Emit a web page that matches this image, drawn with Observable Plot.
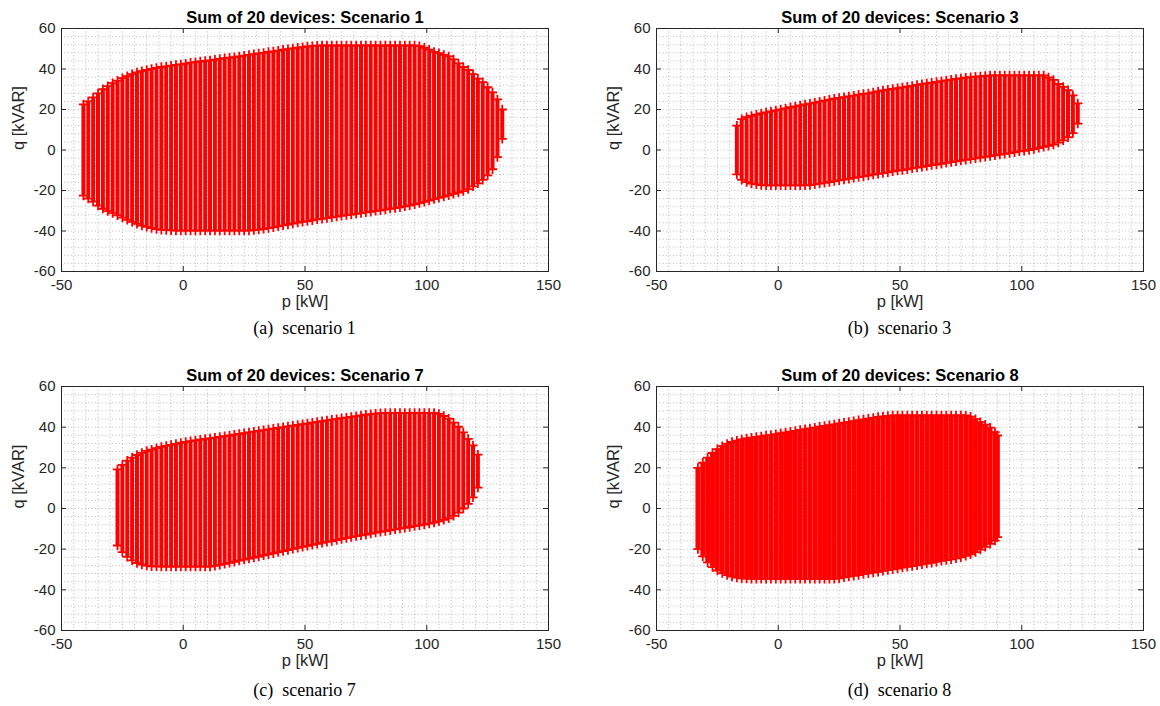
<!DOCTYPE html>
<html><head><meta charset="utf-8">
<script src="https://cdn.jsdelivr.net/npm/d3@7"></script>
<script src="https://cdn.jsdelivr.net/npm/@observablehq/plot@0.6"></script>
<style>
html,body{margin:0;padding:0;background:#fff;}
body{width:1160px;height:706px;position:relative;overflow:hidden;}
.panel{position:absolute;}
.cap{position:absolute;font-family:"Liberation Serif","Times New Roman",serif;font-size:18px;color:#000;transform:translate(-50%,-50%);white-space:pre;}
</style></head><body>
<script>
// ---- axes / labels ----
const xDomain = [-50, 150];
const yDomain = [-60, 60];
const xTicks = [-50, 0, 50, 100, 150];
const yTicks = [-60, -40, -20, 0, 20, 40, 60];
const xLabel = "p [kW]";
const yLabel = "q [kVAR]";
const titles = ["Sum of 20 devices: Scenario 1", "Sum of 20 devices: Scenario 3", "Sum of 20 devices: Scenario 7", "Sum of 20 devices: Scenario 8"];
const captions = ["(a)  scenario 1", "(b)  scenario 3", "(c)  scenario 7", "(d)  scenario 8"];

// ---- data: [p, q_min, q_max] ----
const scenario1 = [
[-41,-22.5,22.5],[-39,-24,24],[-37,-25.5,26],[-35,-27.5,28],[-33,-29,30],[-31,-30.2,31.5],[-29,-31.2,33],[-27,-32.3,34.3],
[-25,-33.4,35.5],[-23,-34.5,36.5],[-21,-35.5,37.5],[-19,-36.5,38.3],[-17,-37.3,39],[-15,-38,39.5],[-13,-38.6,40],[-11,-39.1,40.5],
[-9,-39.4,41],[-7,-39.6,41.3],[-5,-39.7,41.7],[-3,-39.8,42],[-1,-39.8,42.3],[1,-39.8,42.7],[3,-39.8,43.1],[5,-39.8,43.4],
[7,-39.8,43.7],[9,-39.8,44],[11,-39.8,44.3],[13,-39.8,44.6],[15,-39.8,45],[17,-39.8,45.3],[19,-39.8,45.6],[21,-39.8,45.9],
[23,-39.8,46.2],[25,-39.8,46.6],[27,-39.8,47],[29,-39.6,47.3],[31,-39.3,47.7],[33,-39,48],[35,-38.6,48.4],[37,-38.2,48.7],
[39,-37.7,49.1],[41,-37.2,49.5],[43,-36.8,49.8],[45,-36.3,50.2],[47,-35.9,50.5],[49,-35.5,50.8],[51,-35.1,51.1],[53,-34.7,51.3],
[55,-34.3,51.5],[57,-34,51.6],[59,-33.6,51.6],[61,-33.2,51.6],[63,-32.9,51.6],[65,-32.5,51.6],[67,-32.2,51.6],[69,-31.9,51.6],
[71,-31.5,51.6],[73,-31.2,51.6],[75,-30.8,51.6],[77,-30.5,51.6],[79,-30.1,51.6],[81,-29.8,51.6],[83,-29.4,51.6],[85,-29,51.6],
[87,-28.7,51.6],[89,-28.3,51.6],[91,-27.8,51.6],[93,-27.3,51.6],[95,-26.8,51.6],[97,-26.2,51.3],[99,-25.6,50.5],[101,-25,49.5],
[103,-24.3,48.5],[105,-23.6,47.8],[107,-23,47],[109,-22.4,46.2],[111,-21.7,44.8],[113,-21,42.8],[115,-20.3,41],[117,-19.3,39.5],
[119,-18,37.5],[121,-16.5,35.2],[123,-14.8,33.5],[125,-12.5,31],[127,-9.5,28.5],[129,-3.5,25],[131,5.5,20]
];
const scenario3 = [
[-17,-12,12],[-15,-14.8,15.2],[-13,-15.9,16.2],[-11,-16.6,16.9],[-9,-17,17.5],[-7,-17.3,18.1],[-5,-17.5,18.6],[-3,-17.5,19.1],
[-1,-17.5,19.6],[1,-17.5,20.1],[3,-17.5,20.6],[5,-17.5,21.1],[7,-17.5,21.5],[9,-17.5,22],[11,-17.5,22.5],[13,-17.3,22.9],
[15,-17,23.4],[17,-16.6,23.9],[19,-16.2,24.4],[21,-15.8,24.9],[23,-15.4,25.3],[25,-15,25.7],[27,-14.6,26.1],[29,-14.2,26.5],
[31,-13.8,26.9],[33,-13.4,27.3],[35,-13,27.7],[37,-12.6,28],[39,-12.2,28.5],[41,-11.8,29],[43,-11.4,29.4],[45,-11,29.8],
[47,-10.6,30.2],[49,-10.2,30.6],[51,-9.9,30.9],[53,-9.5,31.3],[55,-9.1,31.7],[57,-8.7,32.1],[59,-8.3,32.5],[61,-7.9,32.9],
[63,-7.5,33.2],[65,-7.2,33.6],[67,-6.8,34],[69,-6.4,34.4],[71,-6,34.8],[73,-5.6,35.1],[75,-5.2,35.4],[77,-4.9,35.7],
[79,-4.5,36],[81,-4.1,36.2],[83,-3.7,36.4],[85,-3.4,36.6],[87,-3,36.8],[89,-2.6,36.9],[91,-2.3,36.9],[93,-1.9,36.9],
[95,-1.5,36.9],[97,-1.1,36.9],[99,-0.7,36.9],[101,-0.4,36.9],[103,0,36.9],[105,0.5,36.9],[107,1,36.9],[109,1.5,36.9],
[111,2,35.8],[113,2.7,34.6],[115,3.6,32.6],[117,4.8,31.2],[119,6.3,29.5],[121,8.3,27],[123,13,23]
];
const scenario7 = [
[-27,-18.2,19.2],[-25,-21.5,21.5],[-23,-23.8,23.5],[-21,-25.5,25],[-19,-26.8,26.3],[-17,-27.6,27.4],[-15,-28.1,28.3],[-13,-28.4,29],
[-11,-28.5,29.7],[-9,-28.6,30.3],[-7,-28.6,30.8],[-5,-28.6,31.3],[-3,-28.6,31.8],[-1,-28.6,32.3],[1,-28.6,32.7],[3,-28.6,33.1],
[5,-28.6,33.5],[7,-28.6,33.8],[9,-28.6,34.2],[11,-28.6,34.5],[13,-28.2,34.9],[15,-27.7,35.2],[17,-27.2,35.6],[19,-26.7,35.9],
[21,-26.2,36.3],[23,-25.6,36.7],[25,-25.1,37],[27,-24.6,37.4],[29,-24.1,37.8],[31,-23.6,38.2],[33,-23,38.5],[35,-22.5,38.9],
[37,-22,39.3],[39,-21.5,39.6],[41,-21,40],[43,-20.4,40.4],[45,-19.9,40.7],[47,-19.4,41.1],[49,-18.9,41.5],[51,-18.4,41.8],
[53,-17.9,42.2],[55,-17.4,42.6],[57,-16.9,42.9],[59,-16.4,43.3],[61,-16,43.7],[63,-15.5,44],[65,-15,44.4],[67,-14.5,44.7],
[69,-14.1,45.1],[71,-13.6,45.4],[73,-13.2,45.8],[75,-12.8,46.1],[77,-12.3,46.4],[79,-11.9,46.7],[81,-11.5,46.9],[83,-11.1,47],
[85,-10.7,47],[87,-10.3,47],[89,-9.9,47],[91,-9.5,47],[93,-9.1,47],[95,-8.7,47],[97,-8.3,47],[99,-7.9,47],
[101,-7.4,47],[103,-6.9,47],[105,-6.3,46.5],[107,-5.6,45.5],[109,-4.8,44.2],[111,-3.6,42.2],[113,-2,40.2],[115,0,37.4],
[117,2.3,34.2],[119,5.5,31],[121,10.3,26.5]
];
const scenario8 = [
[-33,-20,20],[-31,-23.5,22.5],[-29,-26.5,25],[-27,-28.8,27.3],[-25,-30.5,29.2],[-23,-31.8,30.7],[-21,-32.8,31.8],[-19,-33.5,32.7],
[-17,-34,33.4],[-15,-34.3,34],[-13,-34.5,34.5],[-11,-34.6,34.9],[-9,-34.6,35.2],[-7,-34.6,35.5],[-5,-34.6,35.9],[-3,-34.6,36.2],
[-1,-34.6,36.6],[1,-34.6,37],[3,-34.6,37.4],[5,-34.6,37.8],[7,-34.6,38.2],[9,-34.6,38.6],[11,-34.6,39],[13,-34.6,39.4],
[15,-34.6,39.8],[17,-34.6,40.2],[19,-34.6,40.6],[21,-34.6,41],[23,-34.6,41.4],[25,-34.3,41.8],[27,-33.9,42.2],[29,-33.5,42.6],
[31,-33.1,43],[33,-32.7,43.4],[35,-32.3,43.8],[37,-31.9,44.2],[39,-31.5,44.6],[41,-31.1,45],[43,-30.7,45.3],[45,-30.3,45.6],
[47,-29.9,45.8],[49,-29.5,45.8],[51,-29.1,45.8],[53,-28.7,45.8],[55,-28.3,45.8],[57,-27.9,45.8],[59,-27.5,45.8],[61,-27.1,45.8],
[63,-26.7,45.8],[65,-26.2,45.8],[67,-25.8,45.8],[69,-25.4,45.8],[71,-25,45.8],[73,-24.5,45.8],[75,-24,45.8],[77,-23.3,45.8],
[79,-22.5,45.2],[81,-21.5,44],[83,-20.2,42.5],[85,-18.9,41.2],[87,-17.4,39.8],[89,-15.8,37.5],[90,-14.1,35.9]
];

// ---- layout ----
const W = 560, H = 310, ML = 61, MR = 12, MT = 28;
const panels = [
  {data: scenario1, left: 0,   top: 0,   plotH: 243, sw: 4.0, cx: 304.5, cy: 328},
  {data: scenario3, left: 595, top: 0,   plotH: 243, sw: 4.0, cx: 899.5, cy: 328},
  {data: scenario7, left: 0,   top: 358, plotH: 244, sw: 4.0, cx: 304.5, cy: 690},
  {data: scenario8, left: 595, top: 358, plotH: 244, sw: 4.9, cx: 899.5, cy: 690}
];
const xMinor = d3.range(xDomain[0], xDomain[1] + 0.1, 5);
const yMinor = d3.range(yDomain[0], yDomain[1] + 0.1, 4);
const axisColor = "#262626";
const fmt = d => String(d);

panels.forEach((pn, i) => {
  const plotW = W - ML - MR;
  const MB = H - MT - pn.plotH;
  const chart = Plot.plot({
    width: W, height: H,
    marginLeft: ML, marginRight: MR, marginTop: MT, marginBottom: MB,
    x: {domain: xDomain},
    y: {domain: yDomain},
    style: {fontFamily: '"Liberation Sans", Arial, Helvetica, sans-serif', fontSize: "15px", color: axisColor, background: "#fff", overflow: "visible"},
    marks: [
      Plot.ruleX(xMinor, {x: d => d, stroke: "#a8a8a8", strokeWidth: 0.8, strokeDasharray: "1,2.4"}),
      Plot.ruleY(yMinor, {y: d => d, stroke: "#a8a8a8", strokeWidth: 0.8, strokeDasharray: "1,2.4"}),
      Plot.ruleX(pn.data, {x: d => d[0], y1: d => d[1], y2: d => d[2], stroke: "#ff0000", strokeWidth: pn.sw}),
      Plot.dot(pn.data, {x: d => d[0], y: d => d[2], symbol: "plus", r: 3.1, stroke: "#ff0000", strokeWidth: 1.8}),
      Plot.dot(pn.data, {x: d => d[0], y: d => d[1], symbol: "plus", r: 3.1, stroke: "#ff0000", strokeWidth: 1.8}),
      Plot.frame({stroke: axisColor, strokeWidth: 1}),
      Plot.tickX(xTicks, {x: d => d, insetTop: pn.plotH - 5, stroke: axisColor}),
      Plot.tickX(xTicks, {x: d => d, insetBottom: pn.plotH - 5, stroke: axisColor}),
      Plot.tickY(yTicks, {y: d => d, insetRight: plotW - 5, stroke: axisColor}),
      Plot.tickY(yTicks, {y: d => d, insetLeft: plotW - 5, stroke: axisColor}),
      Plot.axisX({ticks: xTicks, tickFormat: fmt, tickSize: 0, tickPadding: 8, label: null, fill: axisColor, fontSize: 15}),
      Plot.axisY({ticks: yTicks, tickFormat: fmt, tickSize: 0, tickPadding: 6, label: null, fill: axisColor, fontSize: 15}),
      Plot.text([titles[i]], {frameAnchor: "top", lineAnchor: "bottom", dy: -5.5, fontWeight: "bold", fontSize: 16.5, fill: "#000"}),
      Plot.text([xLabel], {frameAnchor: "bottom", lineAnchor: "bottom", dy: 35.5, fontSize: 16.5, fill: axisColor}),
      Plot.text([yLabel], {frameAnchor: "left", lineAnchor: "bottom", rotate: -90, dx: -37.5, fontSize: 16.5, fill: axisColor})
    ]
  });
  const div = document.createElement("div");
  div.className = "panel";
  div.style.left = pn.left + "px";
  div.style.top = pn.top + "px";
  div.appendChild(chart);
  document.body.appendChild(div);
  const cap = document.createElement("div");
  cap.className = "cap";
  cap.style.left = pn.cx + "px";
  cap.style.top = pn.cy + "px";
  cap.textContent = captions[i];
  document.body.appendChild(cap);
});
</script>
</body></html>
